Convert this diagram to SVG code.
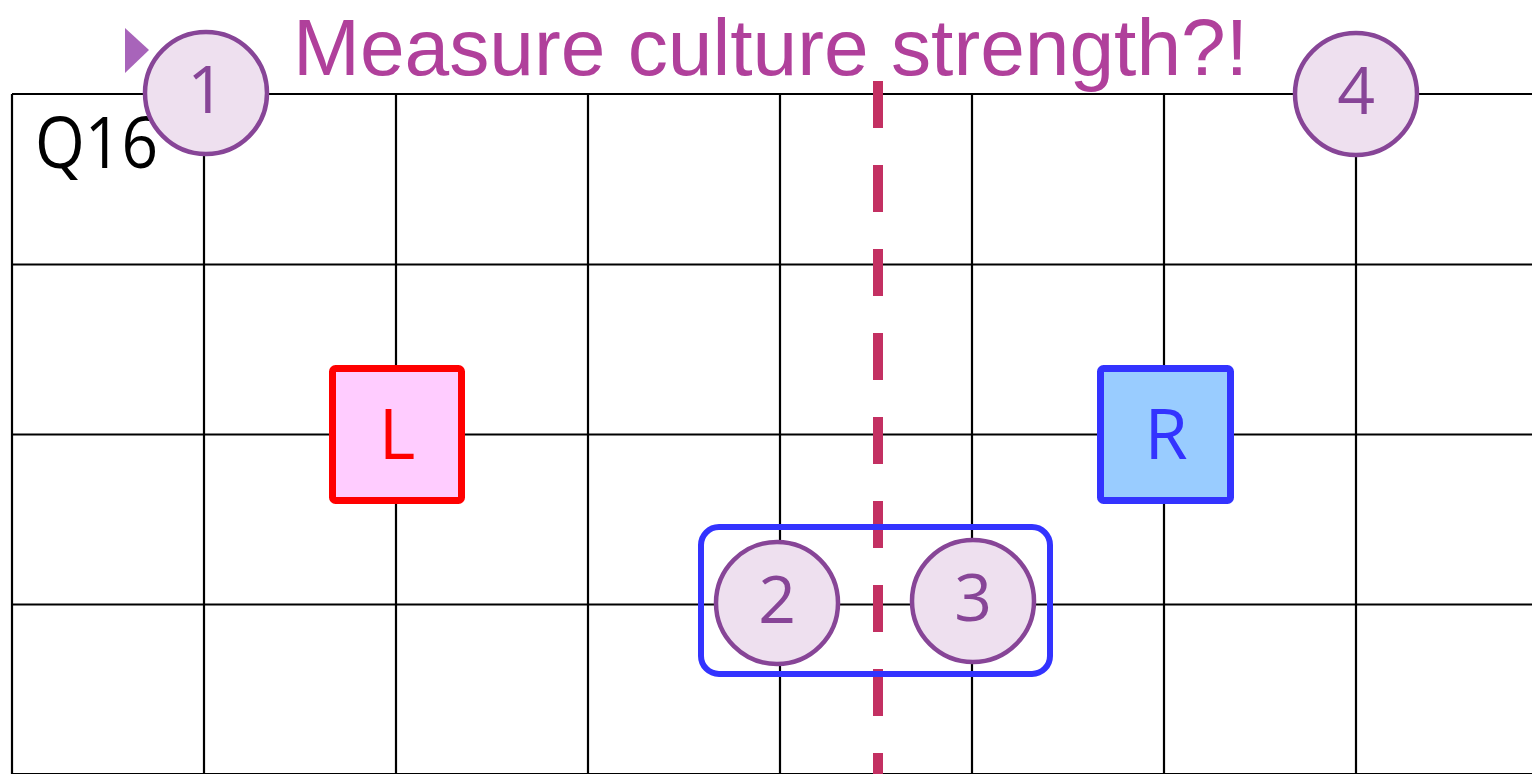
<svg xmlns="http://www.w3.org/2000/svg" width="1532" height="774" viewBox="0 0 1532 774">
<style>
.grid{stroke:#000;stroke-width:2.2;fill:none}
.num{fill:#EEE0EF;stroke:#874597;stroke-width:4.5}
.numt{font-family:"Open Sans","DejaVu Sans",sans-serif;font-size:66px;fill:#874597;text-anchor:middle}
.box{font-family:"Open Sans","DejaVu Sans",sans-serif;font-size:70px;text-anchor:middle}
</style>
<rect width="1532" height="774" fill="#fff"/>
<g id="grid" class="grid">
<path d="M12 94H1532M12 264.5H1532M12 434.5H1532M12 604.5H1532M12 774H1532"/>
<path d="M12 94V774M204 94V774M396 94V774M588 94V774M780 94V774M972 94V774M1164 94V774M1356 94V774"/>
</g>
<text x="35" y="168" font-family="'Open Sans','DejaVu Sans',sans-serif" font-size="72" fill="#000" textLength="123" lengthAdjust="spacingAndGlyphs">Q16</text>
<g id="connectors">
<line x1="878" y1="81" x2="878" y2="774" stroke="#C33062" stroke-width="10" stroke-dasharray="47 37"/>
</g>
<g id="group23">
<rect x="701" y="527" width="349" height="147" rx="18" fill="none" stroke="#3333FF" stroke-width="6"/>
</g>
<g id="nodeL">
<rect x="332.5" y="368.5" width="129" height="132" rx="3" fill="#FFCCFF" stroke="#FF0000" stroke-width="7"/>
<text class="box" x="397" y="459" fill="#FF0000">L</text>
</g>
<g id="nodeR">
<rect x="1100.5" y="368.5" width="130" height="132" rx="3" fill="#99CCFF" stroke="#3333FF" stroke-width="7"/>
<text class="box" x="1166" y="459" fill="#3333FF">R</text>
</g>
<g id="title">
<polygon points="125,28 149,50 125,73" fill="#A864BA"/>
<text x="293" y="75" font-family="'Liberation Sans',Arial,sans-serif" font-size="80" fill="#B0409B" textLength="955" lengthAdjust="spacingAndGlyphs">Measure culture strength?!</text>
</g>
<g id="node1"><circle class="num" cx="206" cy="93" r="61"/><text class="numt" x="206" y="113">1</text></g>
<g id="node4"><circle class="num" cx="1356" cy="94" r="61"/><text class="numt" x="1356" y="114">4</text></g>
<g id="node2"><circle class="num" cx="777" cy="603" r="61"/><text class="numt" x="777" y="623">2</text></g>
<g id="node3"><circle class="num" cx="973" cy="601" r="61"/><text class="numt" x="973" y="621">3</text></g>
</svg>
